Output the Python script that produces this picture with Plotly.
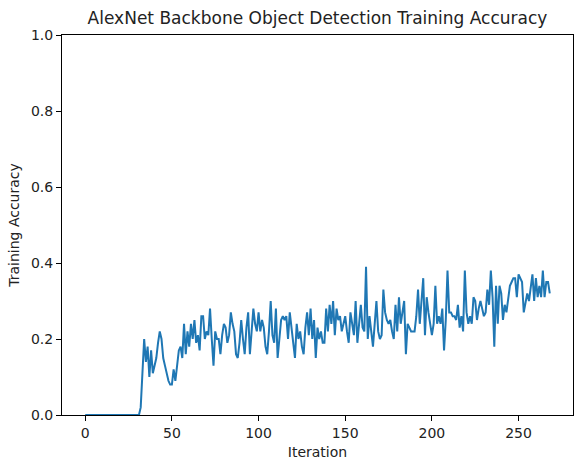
import plotly.graph_objects as go

iterations = list(range(269))
accuracy = (
    [0.0] * 32 +
    [0.02, 0.12, 0.20, 0.14, 0.18, 0.10, 0.17, 0.11, 0.13, 0.15,
     0.19, 0.22, 0.20, 0.15, 0.13, 0.11, 0.09, 0.08, 0.08, 0.12,
     0.09, 0.13, 0.17, 0.18, 0.15, 0.24, 0.16, 0.22, 0.18, 0.24,
     0.20, 0.25, 0.19, 0.21, 0.17, 0.26, 0.26, 0.20,
     # 70-
     0.22, 0.21, 0.28, 0.20, 0.13, 0.22, 0.20, 0.20, 0.16, 0.21,
     0.24, 0.23, 0.19, 0.21, 0.27, 0.24, 0.22, 0.16, 0.15, 0.19,
     0.25, 0.20, 0.16, 0.23, 0.27, 0.16, 0.21, 0.28, 0.24, 0.22,
     # 100-
     0.27, 0.22, 0.25, 0.23, 0.18, 0.16, 0.22, 0.30, 0.21, 0.19,
     0.28, 0.15, 0.20, 0.25, 0.26, 0.25, 0.26, 0.20, 0.27, 0.22,
     0.19, 0.15, 0.24, 0.20, 0.22, 0.18, 0.16, 0.23, 0.27, 0.21,
     # 130-
     0.28, 0.20, 0.25, 0.15, 0.23, 0.20, 0.22, 0.19, 0.19, 0.28,
     0.22, 0.29, 0.24, 0.30, 0.21, 0.28, 0.25, 0.26, 0.22, 0.24,
     0.26, 0.22, 0.19, 0.27, 0.24, 0.21, 0.30, 0.19, 0.24, 0.29,
     # 160-
     0.23, 0.22, 0.39, 0.20, 0.26, 0.21, 0.18, 0.24, 0.30, 0.22,
     0.20, 0.21, 0.33, 0.27, 0.25, 0.24, 0.25, 0.22, 0.20, 0.29,
     0.22, 0.31, 0.24, 0.27, 0.30, 0.16, 0.24, 0.23, 0.22, 0.22,
     # 190-
     0.22, 0.26, 0.33, 0.24, 0.30, 0.36, 0.21, 0.31, 0.27, 0.24,
     0.21, 0.24, 0.34, 0.24, 0.26, 0.24, 0.28, 0.17, 0.25, 0.38,
     0.27, 0.27, 0.26, 0.26, 0.25, 0.29, 0.23, 0.26, 0.22, 0.38,
     # 220-
     0.27, 0.24, 0.26, 0.24, 0.31, 0.30, 0.25, 0.28, 0.30, 0.28,
     0.26, 0.27, 0.33, 0.29, 0.38, 0.31, 0.18, 0.34, 0.24, 0.34,
     0.32, 0.25, 0.29, 0.27, 0.31, 0.34, 0.35, 0.36, 0.36, 0.31,
     # 250-
     0.37, 0.36, 0.35, 0.27, 0.30, 0.32, 0.30, 0.33, 0.37, 0.30,
     0.36, 0.31, 0.34, 0.31, 0.38, 0.31, 0.35, 0.35, 0.32]
)

x_ticks = [0, 50, 100, 150, 200, 250]
y_ticks = [0.0, 0.2, 0.4, 0.6, 0.8, 1.0]

fig = go.Figure()
fig.add_trace(go.Scatter(
    x=iterations, y=accuracy, mode="lines",
    line=dict(color="#1f77b4", width=2),
))

font_family = "DejaVu Sans"
axis_common = dict(
    showline=True, linecolor="black", linewidth=1, mirror=True,
    ticks="outside", ticklen=5, tickwidth=1, tickcolor="black",
    showgrid=False, zeroline=False,
    tickfont=dict(family=font_family, size=14, color="#222"),
)

fig.update_layout(
    width=574, height=461,
    margin=dict(l=62, r=1, t=35, b=46, autoexpand=False),
    paper_bgcolor="white", plot_bgcolor="white",
    showlegend=False,
    title=dict(
        text="AlexNet Backbone Object Detection Training Accuracy",
        font=dict(family=font_family, size=17, color="#222"),
        x=0.5, xanchor="center", xref="paper",
        y=1 - 18 / 461, yanchor="middle", yref="container",
    ),
    xaxis=dict(
        range=[-13.4, 281.4], tickvals=x_ticks,
        title=dict(text="Iteration", font=dict(family=font_family, size=14, color="#222"), standoff=7),
        **axis_common,
    ),
    yaxis=dict(
        range=[0, 1], tickvals=y_ticks, tickformat=".1f",
        title=dict(text="Training Accuracy", font=dict(family=font_family, size=14, color="#222"), standoff=8),
        **axis_common,
    ),
)

fig.write_html("out.html")
